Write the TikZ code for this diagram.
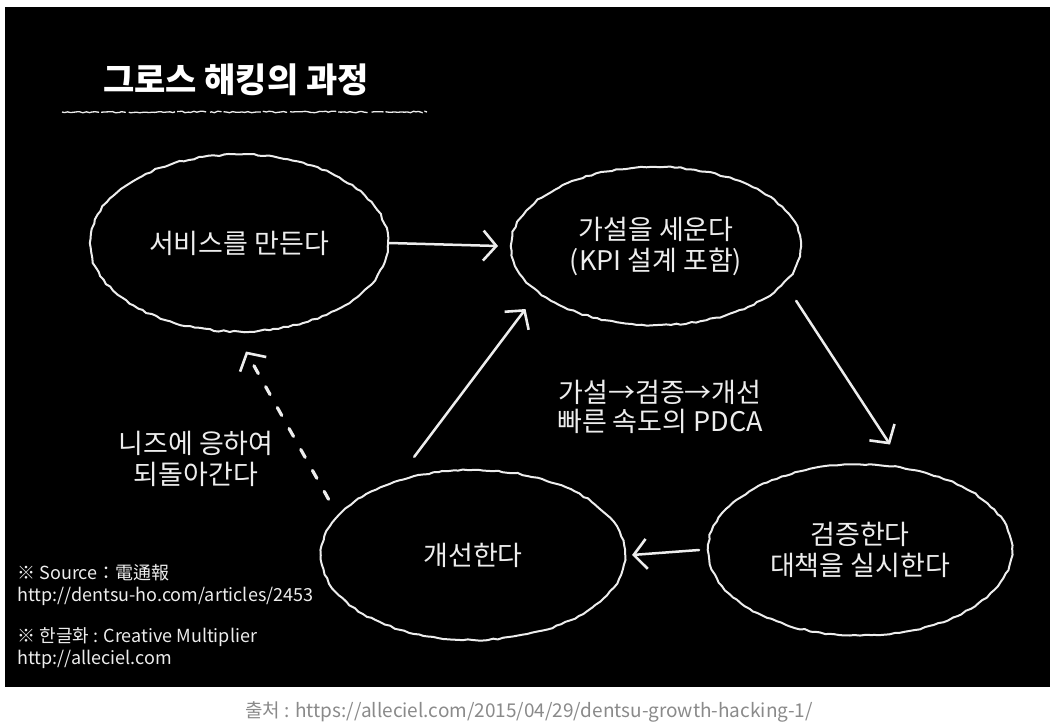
\documentclass[tikz,border=0pt]{standalone}
\usepackage{fontspec}
\setmainfont{Noto Sans CJK KR}
\usepackage{tikz}
\usetikzlibrary{shapes.geometric,arrows.meta,decorations.pathmorphing}
\usepackage{xcolor}
\definecolor{chalk}{gray}{0.93}
\definecolor{capgray}{HTML}{8A8A8A}

\begin{document}
\begin{tikzpicture}[x=1pt,y=-1pt,
          every node/.style={font=\fontsize{27}{31}\selectfont,text=chalk},
          step node/.style={ellipse,draw=chalk,line width=2pt,align=center,
            decorate,decoration={random steps,segment length=5pt,amplitude=0.8pt}},
          arr/.style={draw=chalk,line width=2.5pt,line cap=round,
            -{Straight Barb[length=13pt,width=30pt,line width=2.6pt]}},
          note/.style={font=\fontsize{18}{22}\selectfont,anchor=west,align=left},
        ]
        \useasboundingbox (0,0) rectangle (1056,727);
        \fill[black] (5,7) rectangle (1050,687);
        % title
        \node[font=\fontsize{34}{38}\selectfont\bfseries,text=white] (title) at (236,80) {그로스 해킹의 과정};
        \draw[chalk,line width=1.3pt,dash pattern=on 38pt off 2pt on 25pt off 3pt on 47pt off 2pt on 30pt off 4pt on 12pt off 2pt,
          decorate,decoration={random steps,segment length=3pt,amplitude=0.8pt}]
          (62,112) -- (427,112);
        % the four steps
        \node[step node,minimum width=298pt,minimum height=177pt] (make) at (239,243) {서비스를 만든다};
        \node[step node,minimum width=290pt,minimum height=158pt] (hypo) at (656,246) {가설을 세운다\\(KPI 설계 포함)};
        \node[step node,minimum width=304pt,minimum height=171pt] (verify) at (860,550) {검증한다\\대책을 실시한다};
        \node[step node,minimum width=304pt,minimum height=170pt] (improve) at (473,555) {개선한다};
        % loop
        \draw[arr] (make.east) -- ([xshift=-12pt]hypo.west);
        \draw[arr] ([shift={(29,3)}]hypo.-25) -- ([shift={(30,-19)}]verify.north);
        \draw[arr] ([xshift=-8pt]verify.west) -- ([xshift=6pt]improve.east);
        \draw[arr] ([shift={(-20,-15)}]improve.115) -- ([shift={(-30,5)}]hypo.210);
        \draw[arr,line width=3.2pt,dash pattern=on 9pt off 15pt] ([shift={(-16,-9)}]improve.160) -- ([shift={(7,19)}]make.south);
        % labels
        \node[align=center,font=\fontsize{27}{29}\selectfont] (pdca) at (660,407) {가설→검증→개선\\빠른 속도의 PDCA};
        \node[align=center] (back) at (196,459) {니즈에 응하여\\되돌아간다};
        \node[note] (src) at (14,585) {※ Source：電通報\\http://dentsu-ho.com/articles/2453};
        \node[note] (kor) at (14,648) {※ 한글화 : Creative Multiplier\\http://alleciel.com};
        \node[font=\fontsize{19}{22}\selectfont,text=capgray] (cap) at (529,712) {출처 : https://alleciel.com/2015/04/29/dentsu-growth-hacking-1/};
      \end{tikzpicture}
\end{document}
